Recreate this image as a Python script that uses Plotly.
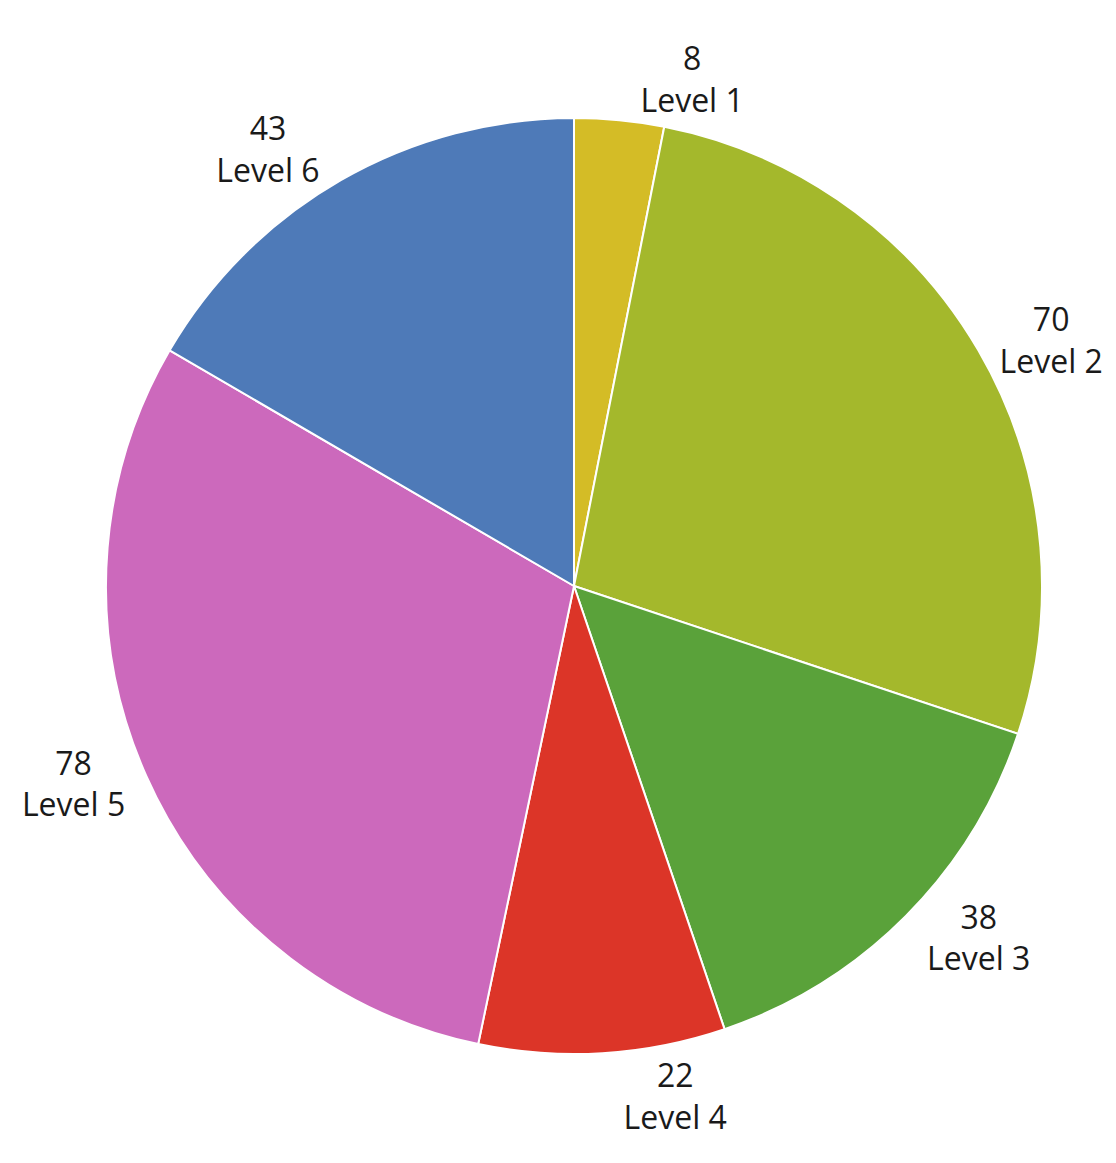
import plotly.graph_objects as go

labels = ["Level 1", "Level 2", "Level 3", "Level 4", "Level 5", "Level 6"]
values = [8, 70, 38, 22, 78, 43]
colors = ["#D4BC26", "#A4B82C", "#5AA23A", "#DC3528", "#CC69BC", "#4E7AB8"]

fig = go.Figure(go.Pie(
    labels=labels,
    values=values,
    sort=False,
    direction="clockwise",
    rotation=0,
    marker=dict(colors=colors, line=dict(color="white", width=2)),
    texttemplate="%{value}<br>%{label}",
    textposition="outside",
    textfont=dict(family="Open Sans, Liberation Sans, sans-serif", size=32, color="#1a1a1a"),
    showlegend=False,
    hoverinfo="label+value",
))

fig.update_layout(
    width=1116,
    height=1163,
    margin=dict(l=98, r=82, t=110, b=117),
    paper_bgcolor="white",
    plot_bgcolor="white",
)

fig.write_html("out.html")
